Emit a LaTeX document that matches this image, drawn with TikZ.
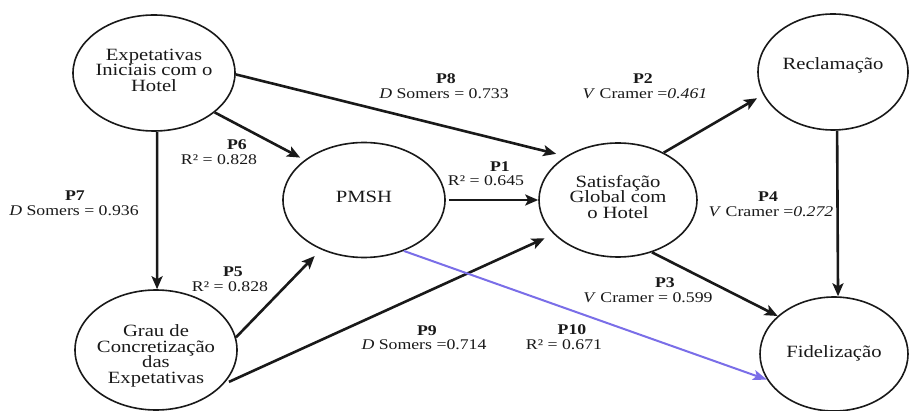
\documentclass[tikz,border=0pt]{standalone}
\usepackage{fontspec}
\setmainfont{Liberation Serif}[FakeStretch=1.2]
\usetikzlibrary{arrows.meta,shapes.geometric}

\definecolor{inkc}{RGB}{25,25,25}
\definecolor{linkblue}{RGB}{122,110,232}

% fixed line spacing inside the construct labels
\newcommand\tightleading{\lineskiplimit=-100pt\relax}

\tikzset{
  construct/.style={ellipse, draw=inkc, line width=1.6pt, inner sep=0pt},
  ctext/.style={font={\fontsize{17.2}{15.5}\selectfont\tightleading},
                align=center, text=inkc, inner sep=0pt},
  ptag/.style={font={\fontsize{14.8}{15}\selectfont\bfseries}, text=inkc, inner sep=0pt},
  stat/.style={font={\fontsize{14.8}{15}\selectfont}, text=inkc, inner sep=0pt},
  link/.style={draw=inkc, line width=2.6pt,
               -{Stealth[length=13pt,width=11pt,inset=3pt]}},
  bluelink/.style={draw=linkblue, line width=2pt,
               -{Stealth[length=14pt,width=10pt,inset=3pt]}},
}

\begin{document}
\begin{tikzpicture}[x=1pt,y=-1pt]
\useasboundingbox[fill=white] (0,0) rectangle (909,411);

% constructs
\node[construct, minimum width=162pt, minimum height=116pt] (A) at (154,73) {};
\node[construct, minimum width=162pt, minimum height=115pt] (B) at (364,200) {};
\node[construct, minimum width=158pt, minimum height=114pt] (C) at (618,200) {};
\node[construct, minimum width=150pt, minimum height=116pt] (D) at (833,72) {};
\node[construct, minimum width=148pt, minimum height=114pt] (E) at (834,354) {};
\node[construct, minimum width=162pt, minimum height=120pt] (F) at (156,350) {};

\node[ctext] (At) at (154,70) {Expetativas\\Iniciais com o\\Hotel};
\node[ctext] (Bt) at (364,197) {PMSH};
\node[ctext] (Ct) at (618,197) {Satisfação\\Global com\\o Hotel};
\node[ctext] (Dt) at (833,65) {Reclamação};
\node[ctext] (Et) at (834,353) {Fidelização};
\node[ctext] (Ft) at (156,356) {Grau de\\Concretização\\das\\Expetativas};

% hypotheses
\draw[link, shorten >=5pt] (A.-33) -- (B.146);
\draw[link, shorten >=10pt] (A.-1) -- (C.140);
\draw[link] (A.-87) -- (F.89);
\draw[link, shorten <=3pt] (B.east) -- (C.west);
\draw[link, shorten >=7pt] (C.46) -- (D.198);
\draw[link] (D.-86) -- (E.86);
\draw[link] (C.-57) -- (E.146);
\draw[link, shorten >=9pt] (F.9) -- (B.229);
\draw[link, shorten <=6pt, shorten >=10pt] (F.-27) -- (C.208);
\draw[bluelink] (B.-52) -- (E.201);

% labels
\node[ptag] (p8) at (446,79) {P8};
\node[stat] (s8) at (444,94) {\textit{D} Somers = 0.733};
\node[ptag] (p2) at (643,79) {P2};
\node[stat] (s2) at (645,94) {\textit{V} Cramer =\textit{0.461}};
\node[ptag] (p6) at (237,145) {P6};
\node[stat] (s6) at (219,160) {R² = 0.828};
\node[ptag] (p7) at (75,196) {P7};
\node[stat] (s7) at (74,211) {\textit{D} Somers = 0.936};
\node[ptag] (p1) at (500,167) {P1};
\node[stat] (s1) at (486,181) {R² = 0.645};
\node[ptag] (p4) at (768,197) {P4};
\node[stat] (s4) at (771,212) {\textit{V} Cramer =\textit{0.272}};
\node[ptag] (p5) at (233,272) {P5};
\node[stat] (s5) at (230,287) {R² = 0.828};
\node[ptag] (p9) at (427,331) {P9};
\node[stat] (s9) at (424,345) {\textit{D} Somers =0.714};
\node[ptag] (p3) at (665,283) {P3};
\node[stat] (s3) at (648,298) {\textit{V} Cramer = 0.599};
\node[ptag] (p10) at (572,330) {P10};
\node[stat] (s10) at (564,345) {R² = 0.671};
\end{tikzpicture}
\end{document}
